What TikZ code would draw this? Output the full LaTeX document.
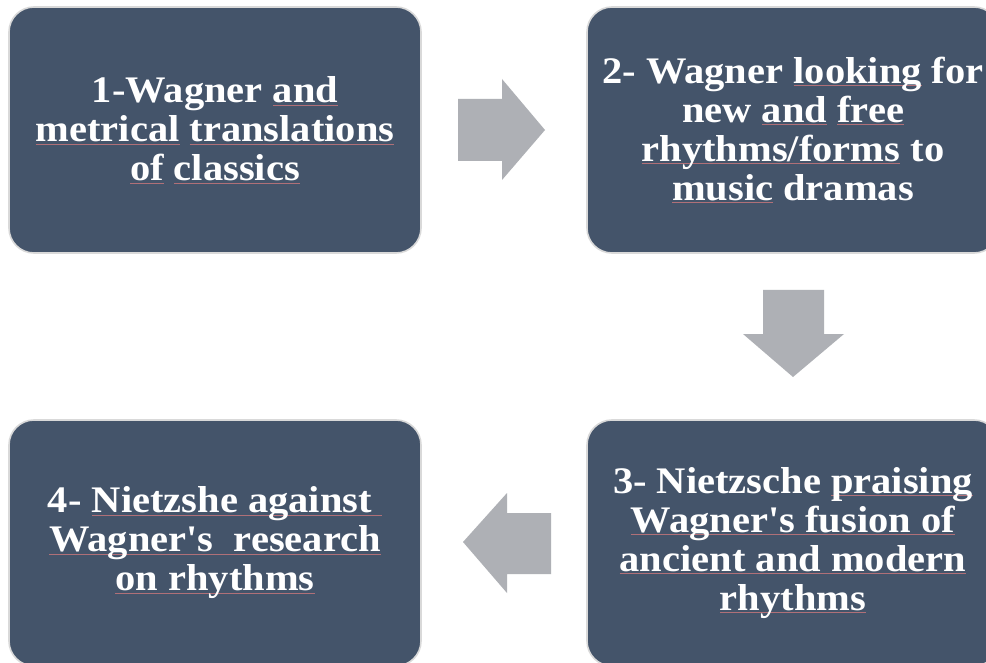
\documentclass[tikz,border=0pt]{standalone}
\usepackage{fontspec}
\setmainfont{Liberation Serif}[Ligatures=TeXOff, FakeStretch=1.08]
\definecolor{boxfill}{HTML}{44546A}
\definecolor{boxedge}{HTML}{D9D9D9}
\definecolor{arrowgray}{HTML}{AEB0B5}
\definecolor{sqred}{HTML}{B07078}
\newsavebox\sqbox
\newcommand\sqline[1]{\sbox\sqbox{#1}\rlap{\textcolor{sqred}{\rule[-2.5pt]{\wd\sqbox}{0.6pt}}}\usebox\sqbox}
\tikzset{
  stepbox/.style={rectangle, rounded corners=25pt, fill=boxfill, draw=boxedge, line width=1.6pt,
    minimum width=412pt, minimum height=246pt, inner sep=0pt, text=white, align=center,
    font=\fontsize{37.5}{39}\selectfont\bfseries},
  blockarrow/.style={fill=arrowgray, draw=none}
}
\begin{document}
\begin{tikzpicture}[x=1pt,y=-1pt]
\useasboundingbox (0,0) rectangle (986,663);
\clip (0,0) rectangle (986,663);
\fill[white] (0,0) rectangle (986,663);
\node[stepbox] (b1) at (215,130) {1-Wagner \sqline{and}\\ \sqline{metrical} \sqline{translations}\\ \sqline{of} \sqline{classics}};
\node[stepbox] (b2) at (793,130) {2- Wagner \sqline{looking} for\\ new \sqline{and} \sqline{free}\\ \sqline{rhythms/forms} to\\ \sqline{music} dramas};
\node[stepbox] (b3) at (793,543) {3- Nietzsche \sqline{praising}\\ \sqline{Wagner's fusion of}\\ \sqline{ancient and modern}\\ \sqline{rhythms}};
\node[stepbox] (b4) at (215,543) {4- \sqline{Nietzshe against\ }\\ \sqline{Wagner's\ \ research}\\ \sqline{on rhythms}};
% right arrow (1 -> 2)
\fill[blockarrow] (458,99) -- (502,99) -- (502,79) -- (545,130) -- (502,180) -- (502,161) -- (458,161) -- cycle;
% down arrow (2 -> 3)
\fill[blockarrow] (763,290) -- (824,290) -- (824,334) -- (844,334) -- (793,377) -- (743,334) -- (763,334) -- cycle;
% left arrow (3 -> 4)
\fill[blockarrow] (551,513) -- (507,513) -- (507,493) -- (463,542) -- (507,593) -- (507,574) -- (551,574) -- cycle;
\end{tikzpicture}
\end{document}
